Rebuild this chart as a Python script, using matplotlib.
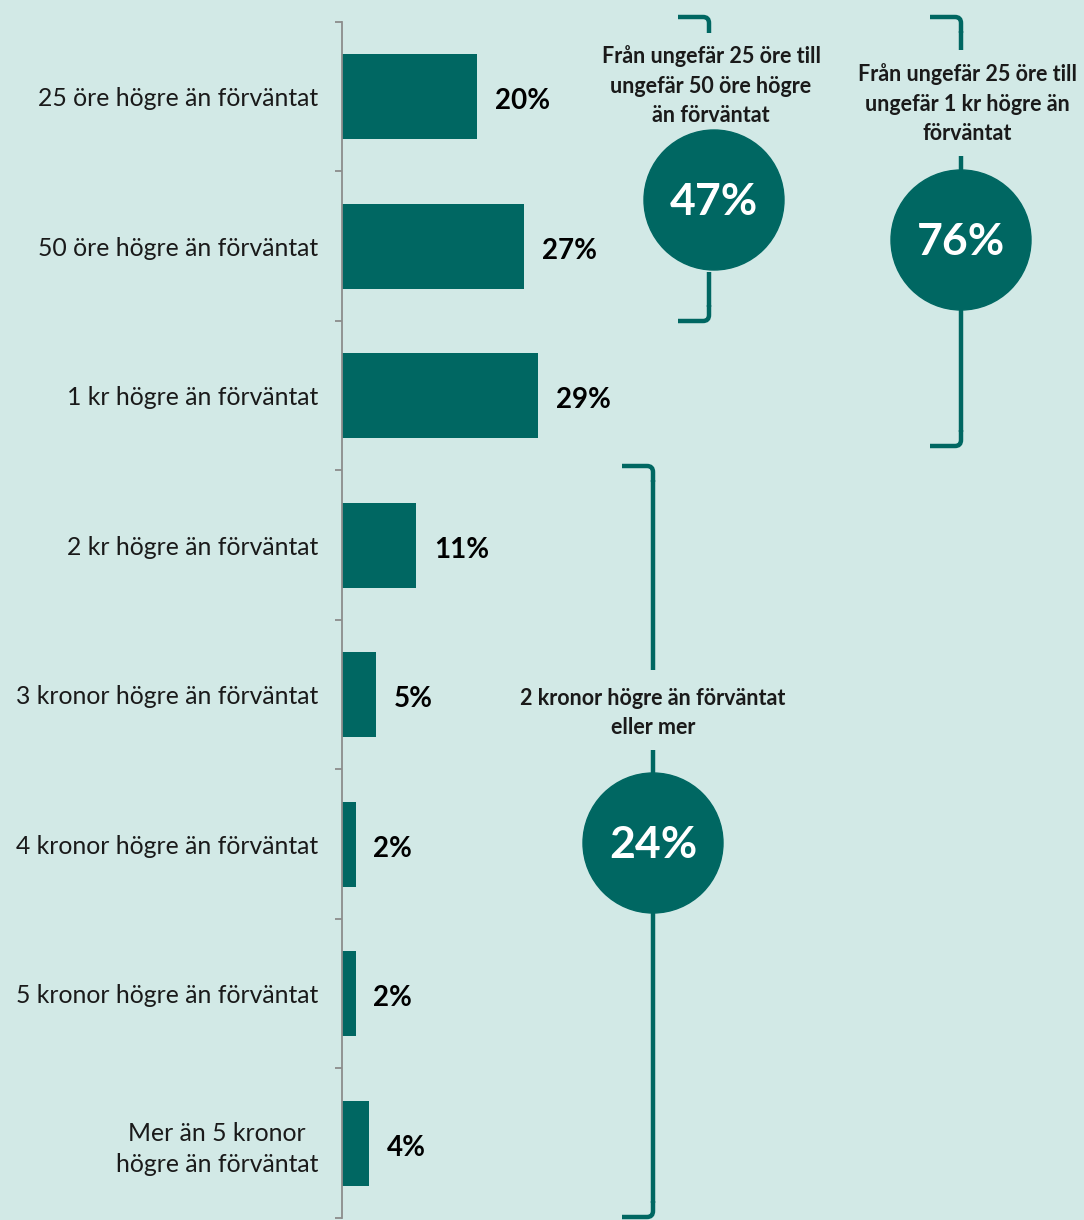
import matplotlib.pyplot as plt
import numpy as np
from matplotlib.path import Path
from matplotlib.patches import PathPatch, Circle

# data
categories = ["25 öre högre än förväntat", "50 öre högre än förväntat",
              "1 kr högre än förväntat", "2 kr högre än förväntat",
              "3 kronor högre än förväntat", "4 kronor högre än förväntat",
              "5 kronor högre än förväntat", "Mer än 5 kronor\nhögre än förväntat"]
values = [20, 27, 29, 11, 5, 2, 2, 4]

group_labels = ["Från ungefär 25 öre till\nungefär 50 öre högre\nän förväntat",
                "Från ungefär 25 öre till\nungefär 1 kr högre än\nförväntat",
                "2 kronor högre än förväntat\neller mer"]
group_values = ["47%", "76%", "24%"]

bg = "#D2E9E6"
teal = "#006762"
FONT = ["Lato", "DejaVu Sans"]
plt.rcParams['font.family'] = FONT

W, H = 1084, 1220
fig = plt.figure(figsize=(W / 100, H / 100), dpi=100, facecolor=bg)

# bar chart
x0 = 342
px_per_pct = 6.75
ax = fig.add_axes([x0 / W, 0, 1 - x0 / W, 1])
ax.set_facecolor("none")
y = np.arange(len(categories))
ax.barh(y, values, height=0.57, color=teal)
ax.set_xlim(0, (W - x0) / px_per_pct)
ax.set_ylim(7.5 + 2 / 150, -0.5 - 22 / 150)

for s in ["top", "right", "bottom"]:
    ax.spines[s].set_visible(False)
ax.spines["left"].set_bounds(-0.5, 7.5)
ax.spines["left"].set_color("#8C8C8C")
ax.spines["left"].set_linewidth(1.3)
ax.set_xticks([])
ax.set_yticks(y)
ax.set_yticklabels(categories, fontsize=17.8, color="#1a1a1a",
                   multialignment="center", linespacing=1.4)
ax.tick_params(axis="y", which="major", length=0, pad=17)
ax.set_yticks(np.arange(-0.5, 8), minor=True)
ax.tick_params(axis="y", which="minor", length=5, width=1.3, color="#8C8C8C")

for i, v in enumerate(values):
    ax.text(v + 18 / px_per_pct, i + 0.03, f"{v}%", va="center", ha="left",
            fontsize=20, fontweight="bold", color="black")

# overlay for brackets and circles, in pixel units
ov = fig.add_axes([0, 0, 1, 1])
ov.set_xlim(0, W)
ov.set_ylim(H, 0)
ov.axis("off")
ov.patch.set_alpha(0)


def hook(x, yy, direction):
    # rounded corner: horizontal piece going left from x, vertical going up/down
    r = 6
    verts = [(x - 31, yy), (x - r, yy), (x, yy), (x, yy + direction * r),
             (x, yy + direction * 16)]
    codes = [Path.MOVETO, Path.LINETO, Path.CURVE3, Path.CURVE3, Path.LINETO]
    ov.add_patch(PathPatch(Path(verts, codes), fill=False, ec=teal, lw=3.2,
                           capstyle="butt"))


def bracket(x, top, bottom, gaps, cx, cy, label, value, tx, ty):
    hook(x, top, 1)
    hook(x, bottom, -1)
    pts = [top + 14] + [g for gap in gaps for g in gap] + [bottom - 14]
    for a, b in zip(pts[::2], pts[1::2]):
        if b > a:
            ov.plot([x, x], [a, b], color=teal, lw=3.2, solid_capstyle="butt")
    ov.add_patch(Circle((cx, cy), 70, color=teal, zorder=3))
    ov.text(cx, cy + 2, value, ha="center", va="center", color="white",
            fontsize=32, fontweight="bold", zorder=4)
    ov.text(tx, ty, label, ha="center", va="center",
            fontsize=15.5, fontweight="bold", color="#1a1a1a", linespacing=1.5)


bracket(709, 17, 321, [(31, 272)], 714, 200, group_labels[0], group_values[0], 711, 86)
bracket(961, 17, 446, [(50, 156)], 961, 240, group_labels[1], group_values[1], 967, 104)
bracket(653, 466, 1217, [(670, 750)], 653, 843, group_labels[2], group_values[2], 653, 713)

fig.savefig("out.png", dpi=100, facecolor=bg)
